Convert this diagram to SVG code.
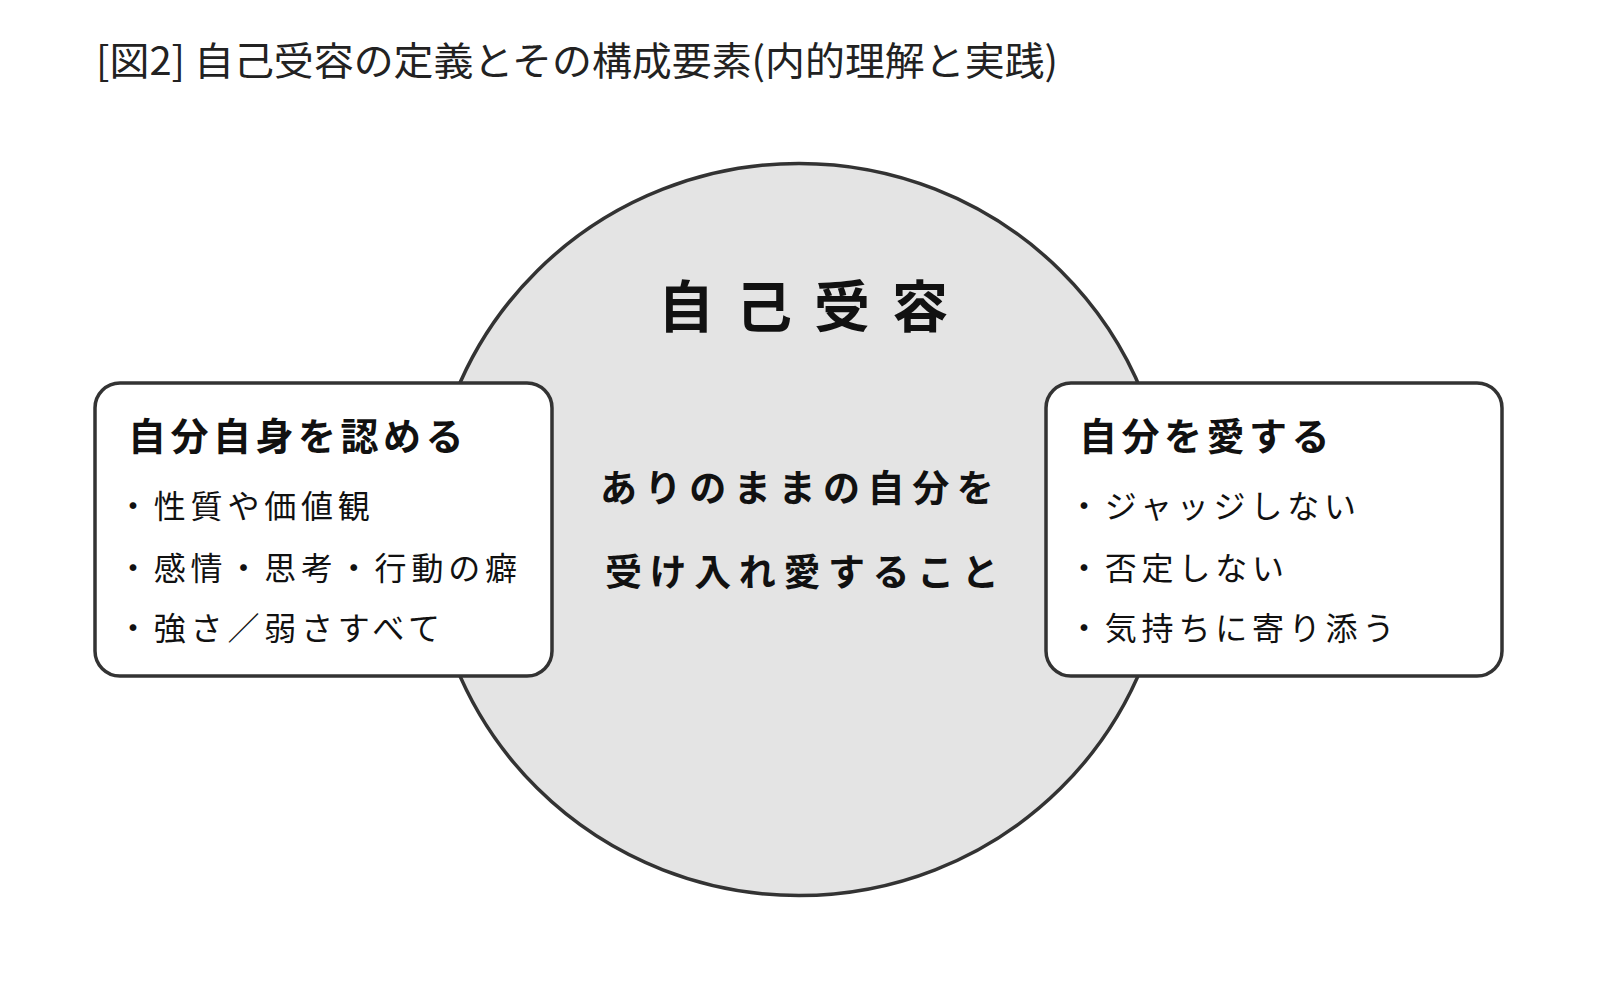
<svg xmlns="http://www.w3.org/2000/svg" width="1612" height="983" viewBox="0 0 1612 983">
  <style>
    text { font-family: "Noto Sans CJK JP", "Noto Sans", sans-serif; fill: #111; }
    .title { font-size: 39px; font-weight: 400; fill: #222; }
    .big { font-size: 56px; font-weight: 700; letter-spacing: 22px; }
    .center { font-size: 37px; font-weight: 700; letter-spacing: 7.6px; }
    .head { font-size: 38px; font-weight: 700; letter-spacing: 4.5px; }
    .item { font-size: 32px; font-weight: 400; letter-spacing: 4.8px; }
    .box { fill: #ffffff; stroke: #333333; stroke-width: 3.5; }
    .circle { fill: #e4e4e4; stroke: #333333; stroke-width: 3.5; }
  </style>
  <rect x="0" y="0" width="1612" height="983" fill="#ffffff"/>
  <text id="title" class="title" x="96" y="75" textLength="962" lengthAdjust="spacingAndGlyphs">[図2] 自己受容の定義とその構成要素(内的理解と実践)</text>

  <g id="node-core">
    <ellipse class="circle" cx="799" cy="529.5" rx="370" ry="366"/>
    <text class="big" x="658" y="327">自己受容</text>
    <text class="center" x="600" y="502">ありのままの自分を</text>
    <text class="center" x="605" y="586">受け入れ愛すること</text>
  </g>

  <g id="connectors"></g>

  <g id="node-accept">
    <rect class="box" x="95" y="383" width="457" height="293" rx="25" ry="25"/>
    <text class="head" x="128" y="450">自分自身を認める</text>
    <text class="item" x="117" y="518">・性質や価値観</text>
    <text class="item" x="117" y="580">・感情・思考・行動の癖</text>
    <text class="item" x="117" y="640">・強さ／弱さすべて</text>
  </g>

  <g id="node-love">
    <rect class="box" x="1046" y="383" width="456" height="293" rx="25" ry="25"/>
    <text class="head" x="1079" y="450">自分を愛する</text>
    <text class="item" x="1068" y="518">・ジャッジしない</text>
    <text class="item" x="1068" y="580">・否定しない</text>
    <text class="item" x="1068" y="640">・気持ちに寄り添う</text>
  </g>
</svg>
